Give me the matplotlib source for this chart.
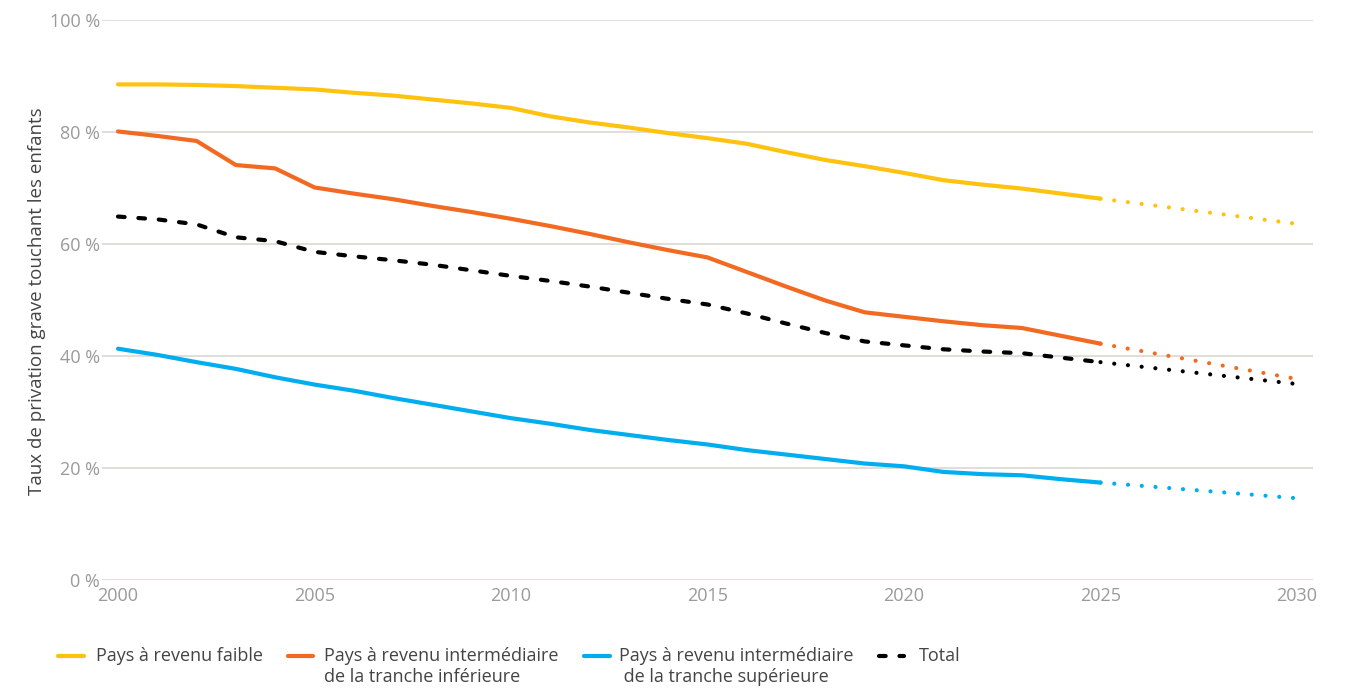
import matplotlib
matplotlib.use("Agg")
import matplotlib.pyplot as plt
from matplotlib.lines import Line2D

plt.rcParams['font.family'] = ['Open Sans', 'DejaVu Sans']

years = list(range(2000, 2026))
proj_years = [2025, 2030]

low_income = [88.5, 88.5, 88.4, 88.2, 87.9, 87.6, 87.0, 86.5, 85.8, 85.1, 84.3, 82.8, 81.7,
              80.8, 79.8, 78.9, 77.9, 76.4, 75.0, 73.9, 72.7, 71.4, 70.6, 69.9, 69.0, 68.1]
low_income_proj = [68.1, 63.6]

lower_middle = [80.1, 79.3, 78.4, 74.1, 73.5, 70.1, 69.0, 68.0, 66.8, 65.7, 64.5, 63.2, 61.8,
                60.3, 58.9, 57.6, 55.0, 52.4, 49.9, 47.8, 47.0, 46.2, 45.5, 45.0, 43.6, 42.2]
lower_middle_proj = [42.2, 35.9]

upper_middle = [41.3, 40.2, 38.9, 37.7, 36.2, 34.9, 33.8, 32.5, 31.3, 30.1, 28.9, 27.9, 26.8,
                25.9, 25.0, 24.2, 23.2, 22.4, 21.6, 20.8, 20.3, 19.3, 18.9, 18.7, 18.0, 17.4]
upper_middle_proj = [17.4, 14.6]

total = [64.9, 64.4, 63.5, 61.2, 60.5, 58.6, 57.8, 57.1, 56.3, 55.3, 54.3, 53.4, 52.4,
         51.3, 50.2, 49.2, 47.6, 45.8, 44.1, 42.6, 41.9, 41.2, 40.8, 40.5, 39.7, 38.9]
total_proj = [38.9, 35.0]

x_ticks = [2000, 2005, 2010, 2015, 2020, 2025, 2030]
y_ticks = [0, 20, 40, 60, 80, 100]
y_tick_labels = ["0 %", "20 %", "40 %", "60 %", "80 %", "100 %"]

legend_first = ["Pays à revenu faible", "Pays à revenu intermédiaire",
                "Pays à revenu intermédiaire", "Total"]
legend_second = ["", "de la tranche inférieure", " de la tranche supérieure", ""]

YELLOW = "#FFC20E"
ORANGE = "#F26A21"
BLUE = "#00AEEF"
BLACK = "#000000"
GRID = "#dcd8d3"
TICK = "#9a9a9a"
TEXT = "#444444"

W, H = 1357, 688
fig = plt.figure(figsize=(W / 100, H / 100), dpi=100)
ax = fig.add_axes([102 / W, 1 - 580 / H, (1313 - 102) / W, (580 - 20) / H])

lw = 3.0
dot = (0, (0.01, 3.3))
dash = (0, (1.6, 3.3))

series = [
    (low_income, low_income_proj, YELLOW, 'solid'),
    (lower_middle, lower_middle_proj, ORANGE, 'solid'),
    (upper_middle, upper_middle_proj, BLUE, 'solid'),
    (total, total_proj, BLACK, dash),
]
for vals, proj, col, ls in series:
    ax.plot(years, vals, color=col, lw=lw, linestyle=ls, solid_capstyle='round',
            dash_capstyle='round', solid_joinstyle='round', zorder=3)
    ax.plot(proj_years, proj, color=col, lw=lw, linestyle=dot, dash_capstyle='round', zorder=3)

ax.set_xlim(2000 - 16 / 39.3, 2030 + 16 / 39.3)
ax.set_ylim(0, 100)
ax.set_xticks(x_ticks)
ax.set_xticklabels([str(t) for t in x_ticks])
ax.set_yticks(y_ticks)
ax.set_yticklabels(y_tick_labels)
ax.grid(axis='y', color=GRID, lw=1.2, zorder=0)
ax.grid(axis='x', visible=False)
for s in ax.spines.values():
    s.set_visible(False)
ax.tick_params(axis='both', length=0, labelsize=13, labelcolor=TICK)
ax.tick_params(axis='y', pad=1.5)
ax.tick_params(axis='x', pad=5)

fig.text(37 / W, 1 - 301 / H, "Taux de privation grave touchant les enfants", rotation=90,
         ha='center', va='center', fontsize=13.5, color=TEXT)

# legend (manual layout)
handle_x = [(58, 84), (288, 313), (584, 610), (879, 904)]
text_x = [96, 324, 619, 919]
text_x2 = [96, 324, 619, 919]
cols = [YELLOW, ORANGE, BLUE, BLACK]
styles = ['solid', 'solid', 'solid', dash]
y1 = 1 - 656 / H
y2 = 1 - 677 / H
for (hx0, hx1), tx, c, st, t1, t2 in zip(handle_x, text_x, cols, styles, legend_first, legend_second):
    fig.add_artist(Line2D([hx0 / W, hx1 / W], [y1, y1], color=c, lw=lw, linestyle=st,
                          solid_capstyle='round', dash_capstyle='round', transform=fig.transFigure))
    fig.text(tx / W, y1, t1, ha='left', va='center', fontsize=13, color=TEXT)
    if t2:
        fig.text(tx / W, y2, t2, ha='left', va='center', fontsize=13, color=TEXT)

fig.savefig("out.png", dpi=100, facecolor='white')
